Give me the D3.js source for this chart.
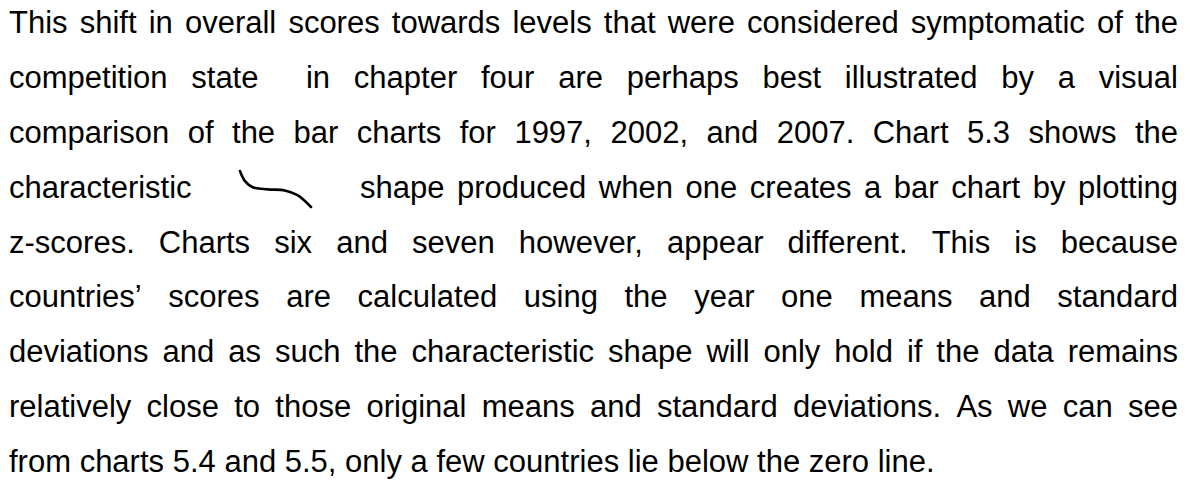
<!DOCTYPE html>
<html>
<head>
<meta charset="utf-8">
<script src="https://cdn.jsdelivr.net/npm/d3@7"></script>
<style>
  html, body { margin: 0; padding: 0; background: #fff; }
  svg { display: block; }
  text { font-family: "Liberation Sans", Arial, sans-serif; font-size: 31px; fill: #000; }
</style>
</head>
<body>
<div id="chart"></div>
<script>
// paragraph lines, as broken in the original
const lines = [
  "This shift in overall scores towards levels that were considered symptomatic of the",
  "competition state  in chapter four are perhaps best illustrated by a visual",
  "comparison of the bar charts for 1997, 2002, and 2007. Chart 5.3 shows the",
  "shape produced when one creates a bar chart by plotting",
  "z-scores. Charts six and seven however, appear different. This is because",
  "countries\u2019 scores are calculated using the year one means and standard",
  "deviations and as such the characteristic shape will only hold if the data remains",
  "relatively close to those original means and standard deviations. As we can see",
  "from charts 5.4 and 5.5, only a few countries lie below the zero line."
];
// line 4 starts with a word, then the hand drawn shape, then the rest
const lead = "characteristic";
const justified = [true, true, true, true, true, true, true, true, false];

// the little hand drawn curve (unit box)
const curvePts = [[0, 0], [0.07, 0.28], [0.18, 0.45], [0.39, 0.51], [0.63, 0.54], [0.81, 0.67], [1, 1]];

const width = 1199;
const height = 484;

const yScale = d3.scaleLinear().domain([0, lines.length - 1]).range([33, 472]);
const xText = d3.scaleLinear().domain([0, 1]).range([9, 1178]);
const xCurve = d3.scaleLinear().domain([0, 1]).range([240, 311]);
const yCurve = d3.scaleLinear().domain([0, 1]).range([171, 207]);

const svg = d3.select("#chart").append("svg")
  .attr("width", width)
  .attr("height", height);

svg.append("rect").attr("width", width).attr("height", height).attr("fill", "#fff");

// measure words
const probe = svg.append("text").attr("x", -1000).attr("y", -1000);
const measure = s => { probe.text(s); return probe.node().getComputedTextLength(); };
const spaceW = measure("a a") - measure("aa");

function layLine(words, x0, x1, y, justify) {
  const widths = words.map(w => w === "" ? 0 : measure(w));
  const total = d3.sum(widths);
  const gap = justify && words.length > 1 ? (x1 - x0 - total) / (words.length - 1) : spaceW;
  let x = x0;
  const placed = [];
  words.forEach((w, i) => {
    if (w !== "") placed.push({ w: w, x: x });
    x += widths[i] + gap;
  });
  svg.append("g").selectAll("text")
    .data(placed)
    .enter()
    .append("text")
      .attr("x", d => d.x)
      .attr("y", y)
      .text(d => d.w);
}

lines.forEach((line, i) => {
  const y = yScale(i);
  if (i === 3) {
    layLine([lead], xText(0), xText(0), y, false);
    layLine(line.split(" "), 360, xText(1), y, true);
  } else {
    layLine(line.split(" "), xText(0), xText(1), y, justified[i]);
  }
});
probe.remove();

svg.append("path")
  .datum(curvePts)
  .attr("d", d3.line().x(d => xCurve(d[0])).y(d => yCurve(d[1])).curve(d3.curveCatmullRom))
  .attr("fill", "none")
  .attr("stroke", "#000")
  .attr("stroke-width", 2.6)
  .attr("stroke-linecap", "round");
</script>
</body>
</html>
